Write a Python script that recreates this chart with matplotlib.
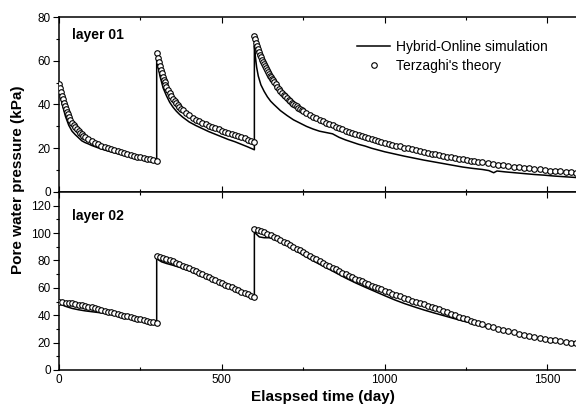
"""
Pore water pressure, two layers: hybrid-online simulation vs Terzaghi.
"""

import matplotlib
matplotlib.use("Agg")
import matplotlib.pyplot as plt
import numpy as np
from matplotlib.ticker import MultipleLocator

plt.rcParams["font.family"] = ["Liberation Sans", "DejaVu Sans"]

# ── Sample times of the theory points (days) ────────────────────────────────
# layer 01 : denser right after each loading step
T1_SEG1 = np.concatenate([np.arange(0, 30, 3), np.arange(30, 80, 5),
                          np.arange(80, 301, 10)])
T1_SEG2 = np.concatenate([np.arange(300, 330, 3), np.arange(330, 380, 5),
                          np.arange(380, 601, 10)])
T1_SEG3 = np.concatenate([np.arange(600, 660, 3), np.arange(660, 750, 5),
                          np.arange(750, 1001, 10), np.arange(1012, 1301, 12),
                          np.arange(1316, 1589, 16)])
# layer 02
T2_SEG1 = np.arange(0, 301, 10)
T2_SEG2 = np.arange(300, 601, 10)
T2_SEG3 = np.concatenate([np.arange(600, 1001, 10),
                          np.arange(1012, 1301, 12),
                          np.arange(1316, 1589, 16)])

# ── Layer 01 : Terzaghi (circles) ───────────────────────────────────────────
L1_TH_SEG1 = [49.5, 47.6, 45.8, 44.1, 42.4, 40.9, 39.4, 38.1, 36.8, 35.6,
              34.5, 33.0, 31.6, 30.5, 29.5, 28.6, 27.8, 27.1, 26.4, 25.8,
              25.2, 24.3, 23.4, 22.6, 21.9, 21.2, 20.6, 20.1, 19.6, 19.1, 18.6,
              18.2, 17.8, 17.4, 17.0, 16.6, 16.2, 15.9, 15.5, 15.2, 14.9,
              14.6, 14.3]
L1_TH_SEG2 = [63.5, 61.4, 59.5, 57.6, 55.9, 54.3, 52.8, 51.4, 50.1, 49.0,
              48.0, 46.5, 45.1, 43.8, 42.6, 41.5, 40.5, 39.6, 38.8, 38.1,
              37.4, 36.1, 35.0, 34.0, 33.1, 32.3, 31.6, 30.9, 30.3, 29.7, 29.1,
              28.6, 28.1, 27.5, 27.0, 26.5, 26.0, 25.5, 25.0, 24.5, 24.0,
              23.5, 23.0]
L1_TH_SEG3 = [71.5, 69.8, 68.2, 66.7, 65.3, 64.0, 62.8, 61.6, 60.5, 59.4,
              58.4, 57.4, 56.5, 55.6, 54.8, 54.0, 53.2, 52.4, 51.7, 51.0,
              50.3, 49.2, 48.2, 47.2, 46.2, 45.3, 44.5, 43.7, 42.9, 42.2,
              41.5, 40.9, 40.3, 39.7, 39.2, 38.6, 38.1, 37.6,
              37.1, 36.2, 35.3, 34.5, 33.7, 33.0, 32.3, 31.6, 31.0, 30.4,
              29.8, 29.2, 28.7, 28.1, 27.6, 27.1, 26.6, 26.1, 25.6, 25.2,
              24.7, 24.3, 23.8, 23.4, 23.0, 22.6,
              22.1, 21.7, 21.2, 20.8, 20.3, 19.9, 19.5, 19.1, 18.7, 18.3,
              17.9, 17.5, 17.2, 16.8, 16.5, 16.1, 15.8, 15.5, 15.2, 14.9,
              14.6, 14.3, 14.0, 13.7, 13.5,
              13.1, 12.8, 12.5, 12.2, 11.9, 11.6, 11.3, 11.0, 10.8, 10.5,
              10.3, 10.0, 9.8, 9.6, 9.4, 9.2, 9.0, 8.8]

# ── Layer 01 : simulation (line) ────────────────────────────────────────────
L1_SIM_T = [0, 5, 10, 20, 30, 40, 50, 60, 70, 80, 90, 100, 120, 140, 160, 180,
            200, 220, 240, 260, 280, 300,
            300, 305, 310, 320, 330, 340, 350, 360, 370, 380, 400, 420, 440,
            460, 480, 500, 520, 540, 560, 580, 600,
            600, 603, 607, 612, 620, 630, 640, 650, 660, 680, 700, 720, 740,
            760, 780, 800, 820, 840, 860, 880, 900, 920, 940, 960, 980, 1000,
            1030, 1060, 1090, 1120, 1150, 1180, 1210, 1240, 1270, 1300, 1320,
            1335, 1345, 1370, 1400, 1430, 1460, 1490, 1520, 1550, 1580, 1600]
L1_SIM_P = [48.0, 44.0, 40.0, 34.5, 30.5, 27.8, 26.2, 24.8, 23.4, 22.6, 22.0,
            21.3, 20.2, 19.2, 18.4, 17.6, 17.0, 16.4, 15.8, 15.2, 14.6, 14.0,
            62.0, 57.0, 53.0, 47.5, 44.0, 41.0, 38.8, 37.0, 35.5, 34.2, 32.0,
            30.4, 29.0, 27.6, 26.4, 25.2, 24.0, 23.0, 21.8, 20.6, 19.3,
            67.0, 62.0, 57.0, 53.0, 49.0, 46.0, 43.5, 41.5, 40.0, 37.2, 35.0,
            33.0, 31.5, 30.0, 28.8, 27.8, 27.2, 26.6, 25.0, 23.8, 22.8, 21.8,
            21.0, 20.0, 19.2, 18.4, 17.4, 16.4, 15.5, 14.6, 13.8, 13.0, 12.2,
            11.4, 10.8, 10.3, 9.8, 8.8, 9.6, 9.2, 8.8, 8.4, 8.0, 7.7, 7.3,
            7.0, 6.7, 6.5]

# ── Layer 02 : Terzaghi (circles) ───────────────────────────────────────────
L2_TH_SEG1 = [49.5, 49.3, 49.1, 48.9, 48.6, 48.2, 47.8, 47.3, 46.8, 46.3, 45.7,
              45.1, 44.5, 43.9, 43.3, 42.7, 42.1, 41.5, 40.9, 40.3, 39.7,
              39.2, 38.6, 38.0, 37.5, 36.9, 36.4, 35.8, 35.3, 34.8, 34.3]
L2_TH_SEG2 = [83.0, 82.6, 82.0, 81.2, 80.3, 79.4, 78.4, 77.4, 76.3, 75.3, 74.2,
              73.1, 72.0, 71.0, 69.9, 68.8, 67.7, 66.7, 65.6, 64.5, 63.5,
              62.4, 61.4, 60.3, 59.3, 58.2, 57.2, 56.2, 55.2, 54.2, 53.3]
L2_TH_SEG3 = [103.0, 102.5, 101.7, 100.7, 99.6, 98.5, 97.4, 96.2, 95.0, 93.8,
              92.5, 91.2, 89.9, 88.6, 87.3, 86.0, 84.7, 83.4, 82.1, 80.8, 79.5,
              78.2, 77.0, 75.8, 74.6, 73.4, 72.3, 71.1, 70.0, 68.9, 67.8,
              66.8, 65.7, 64.7, 63.7, 62.7, 61.7, 60.7, 59.8, 58.9, 58.0,
              56.9, 55.8, 54.7, 53.7, 52.7, 51.7, 50.7, 49.7, 48.8, 47.9,
              47.0, 46.1, 45.2, 44.3, 43.2, 42.2, 41.2, 40.2, 39.0, 37.8,
              36.9, 36.0, 35.1, 34.3, 33.4,
              32.3, 31.2, 30.2, 29.2, 28.3, 27.4, 26.6, 25.8, 25.0, 24.2,
              23.5, 22.8, 22.2, 21.6, 21.0, 20.5, 20.0, 19.5]

# ── Layer 02 : simulation (line) ────────────────────────────────────────────
L2_SIM_T = [0, 20, 40, 60, 80, 100, 120, 140, 160, 180, 200, 220, 240, 260,
            280, 300,
            300, 305, 315, 330, 350, 370, 400, 430, 460, 490, 520, 550, 580, 600,
            600, 605, 615, 630, 645, 660, 675, 690, 705, 715, 730, 760, 790,
            820, 850, 880, 910, 940, 970, 1000, 1030, 1060, 1090, 1120, 1150,
            1180, 1210, 1240, 1270, 1300, 1330, 1360, 1380]
L2_SIM_P = [48.5, 46.5, 45.0, 44.0, 43.2, 42.6, 42.0, 41.5, 41.0, 40.6, 39.8,
            38.8, 37.8, 36.8, 35.6, 34.3,
            83.0, 80.5, 79.0, 77.8, 76.5, 75.0, 72.5, 69.5, 66.5, 63.5, 60.5,
            57.5, 54.0, 51.8,
            103.0, 99.5, 97.2, 96.6, 96.6, 96.0, 94.5, 93.5, 92.0, 89.0, 86.8,
            82.5, 78.5, 74.8, 71.0, 67.2, 63.7, 60.5, 57.4, 54.3, 51.3, 48.6,
            46.2, 43.9, 41.8, 39.8, 37.8, 35.8, 34.0, 32.2, 30.4, 28.8, 27.8]

W, H = 576, 418
fig = plt.figure(figsize=(W / 100, H / 100), dpi=100)

LEFT, RIGHT = 59, 580
ax1 = fig.add_axes([LEFT / W, 1 - 192 / H, (RIGHT - LEFT) / W, 175 / H])
ax2 = fig.add_axes([LEFT / W, 1 - 370 / H, (RIGHT - LEFT) / W, 178 / H])

MK = dict(ls="none", marker="o", ms=4.0, mfc="white", mec="black", mew=0.8)


def draw(ax, sim_t, sim_p, th_times, th_segs):
    ax.plot(sim_t, sim_p, color="black", lw=1.1, zorder=2,
            label="Hybrid-Online simulation")
    for i, (t, p) in enumerate(zip(th_times, th_segs)):
        ax.plot(t, p, zorder=3, label="Terzaghi's theory" if i == 0 else None, **MK)
    ax.set_xlim(0, 1600)
    ax.xaxis.set_major_locator(MultipleLocator(500))
    ax.xaxis.set_minor_locator(MultipleLocator(250))
    ax.tick_params(axis="x", which="both", direction="in", top=True,
                   labelsize=8.5, pad=3)
    ax.tick_params(axis="x", which="major", length=4, width=0.8)
    ax.tick_params(axis="x", which="minor", length=2.5, width=0.8)
    ax.tick_params(axis="y", which="major", direction="out", length=4,
                   width=0.8, labelsize=8.5, pad=2)
    ax.tick_params(axis="y", which="minor", direction="out", length=2.5,
                   width=0.8)
    for s in ax.spines.values():
        s.set_linewidth(1.1)
    ax.spines["right"].set_visible(False)


draw(ax1, L1_SIM_T, L1_SIM_P, (T1_SEG1, T1_SEG2, T1_SEG3),
     (L1_TH_SEG1, L1_TH_SEG2, L1_TH_SEG3))
ax1.set_ylim(0, 80)
ax1.yaxis.set_major_locator(MultipleLocator(20))
ax1.yaxis.set_minor_locator(MultipleLocator(10))
ax1.tick_params(axis="x", labelbottom=False)
ax1.text(0.025, 0.9, "layer 01", transform=ax1.transAxes, fontsize=10,
         fontweight="bold", va="center")
ax1.legend(loc="upper left", bbox_to_anchor=(0.572, 0.87), frameon=False,
           fontsize=10, borderpad=0, borderaxespad=0, handlelength=2.4,
           handletextpad=0.4, labelspacing=0.35)

draw(ax2, L2_SIM_T, L2_SIM_P, (T2_SEG1, T2_SEG2, T2_SEG3),
     (L2_TH_SEG1, L2_TH_SEG2, L2_TH_SEG3))
ax2.set_ylim(0, 130)
ax2.set_yticks(np.arange(0, 121, 20))
ax2.yaxis.set_minor_locator(MultipleLocator(10))
ax2.text(0.025, 0.865, "layer 02", transform=ax2.transAxes, fontsize=10,
         fontweight="bold", va="center")

fig.text(18 / W, 1 - 180 / H, "Pore water pressure (kPa)", rotation=90,
         fontsize=11, fontweight="bold", ha="center", va="center")
fig.text(323 / W, 1 - 397 / H, "Elaspsed time (day)", fontsize=11,
         fontweight="bold", ha="center", va="center")

fig.savefig("out.png", dpi=100)
